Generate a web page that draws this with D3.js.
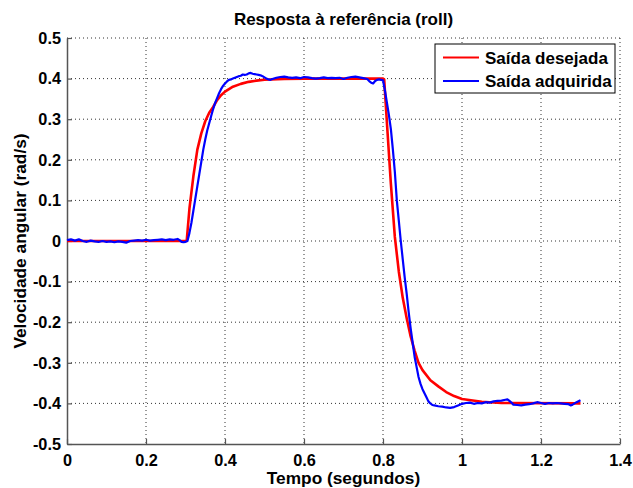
<!DOCTYPE html>
<html>
<head>
<meta charset="utf-8">
<script src="https://cdn.jsdelivr.net/npm/d3@7"></script>
<style>
  html, body { margin: 0; padding: 0; background: #fff; }
  svg { display: block; }
  text { font-family: "Liberation Sans", Arial, sans-serif; font-weight: bold; fill: #000; }
</style>
</head>
<body>
<svg id="chart" width="633" height="488"></svg>
<script>
// ---- data ----
const titleText = "Resposta à referência (roll)";
const xLabel = "Tempo (segundos)";
const yLabel = "Velocidade angular (rad/s)";
const seriesNames = ["Saída desejada", "Saída adquirida"];

const xTicks = [0, 0.2, 0.4, 0.6, 0.8, 1.0, 1.2, 1.4];
const xTickLabels = ["0", "0.2", "0.4", "0.6", "0.8", "1", "1.2", "1.4"];
const yTicks = [-0.5, -0.4, -0.3, -0.2, -0.1, 0, 0.1, 0.2, 0.3, 0.4, 0.5];
const yTickLabels = ["-0.5", "-0.4", "-0.3", "-0.2", "-0.1", "0", "0.1", "0.2", "0.3", "0.4", "0.5"];

// desired output (red)
const tDesired = [0, 0.30, 0.303, 0.31, 0.32, 0.33, 0.34, 0.35, 0.36, 0.37, 0.38, 0.39, 0.40, 0.42, 0.44, 0.46, 0.48, 0.50, 0.55, 0.60,
  0.80, 0.803, 0.81, 0.82, 0.83, 0.84, 0.85, 0.86, 0.87, 0.88, 0.89, 0.90, 0.92, 0.94, 0.96, 0.98, 1.00, 1.05, 1.10, 1.30];
const vDesired = [0, 0, 0, 0.08, 0.16, 0.225, 0.265, 0.295, 0.316, 0.33, 0.347, 0.359, 0.368, 0.38, 0.387, 0.392, 0.395, 0.397, 0.399, 0.4,
  0.4, 0.398, 0.29, 0.14, 0.01, -0.075, -0.14, -0.19, -0.235, -0.27, -0.3, -0.318, -0.343, -0.358, -0.372, -0.382, -0.389, -0.396, -0.399, -0.4];

// acquired output (blue)
const tAcquired = [0, 0.01, 0.02, 0.03, 0.04, 0.05, 0.06, 0.07, 0.08, 0.09, 0.10, 0.11, 0.12, 0.13, 0.14, 0.15, 0.16, 0.17, 0.18, 0.19,
  0.20, 0.21, 0.22, 0.23, 0.24, 0.25, 0.26, 0.27, 0.28, 0.285, 0.29, 0.295, 0.30, 0.305, 0.31, 0.315, 0.32, 0.325, 0.33, 0.335,
  0.34, 0.345, 0.35, 0.355, 0.36, 0.365, 0.37, 0.375, 0.38, 0.385, 0.39, 0.395, 0.40, 0.405, 0.41, 0.415, 0.42, 0.425, 0.43, 0.435,
  0.44, 0.445, 0.45, 0.455, 0.46, 0.465, 0.47, 0.475, 0.48, 0.485, 0.49, 0.495, 0.50, 0.505, 0.51, 0.515, 0.52, 0.53, 0.54, 0.55,
  0.56, 0.57, 0.58, 0.59, 0.60, 0.61, 0.62, 0.63, 0.64, 0.65, 0.66, 0.67, 0.68, 0.69, 0.70, 0.71, 0.72, 0.73, 0.74, 0.75,
  0.76, 0.765, 0.77, 0.775, 0.78, 0.785, 0.79, 0.795, 0.80, 0.805, 0.81, 0.815, 0.82, 0.825, 0.83, 0.835, 0.84, 0.845, 0.85, 0.855,
  0.86, 0.865, 0.87, 0.875, 0.88, 0.885, 0.89, 0.895, 0.90, 0.905, 0.91, 0.915, 0.92, 0.925, 0.93, 0.94, 0.95, 0.96, 0.97, 0.98,
  0.99, 1.00, 1.01, 1.02, 1.03, 1.04, 1.05, 1.06, 1.07, 1.08, 1.09, 1.10, 1.11, 1.115, 1.12, 1.125, 1.13, 1.14, 1.15, 1.16,
  1.17, 1.18, 1.19, 1.20, 1.21, 1.22, 1.23, 1.24, 1.25, 1.26, 1.27, 1.275, 1.28, 1.29, 1.30];
const vAcquired = [0.002, 0.004, 0.001, 0.004, 0.0, -0.002, 0.001, -0.001, -0.002, 0.0, -0.002, -0.001, -0.003, -0.001, -0.002, -0.004, 0.0, 0.001, 0.002, 0.001,
  0.003, 0.001, 0.002, 0.003, 0.004, 0.002, 0.004, 0.003, 0.005, 0.002, -0.002, -0.003, -0.002, 0.0, 0.02, 0.045, 0.075, 0.105, 0.135, 0.165,
  0.195, 0.225, 0.25, 0.272, 0.29, 0.308, 0.325, 0.34, 0.352, 0.364, 0.374, 0.382, 0.388, 0.393, 0.397, 0.398, 0.4, 0.402, 0.404, 0.406,
  0.407, 0.41, 0.409, 0.41, 0.413, 0.414, 0.412, 0.411, 0.41, 0.409, 0.408, 0.406, 0.403, 0.4, 0.398, 0.397, 0.399, 0.402, 0.404, 0.405,
  0.403, 0.402, 0.403, 0.401, 0.404, 0.403, 0.401, 0.4, 0.401, 0.403, 0.401, 0.402, 0.401, 0.402, 0.399, 0.402, 0.404, 0.405, 0.403, 0.401,
  0.399, 0.394, 0.39, 0.388, 0.394, 0.397, 0.398, 0.397, 0.396, 0.37, 0.34, 0.31, 0.275, 0.225, 0.17, 0.1, 0.05, 0.0, -0.045, -0.09,
  -0.13, -0.175, -0.215, -0.25, -0.285, -0.31, -0.335, -0.352, -0.365, -0.375, -0.385, -0.395, -0.4, -0.404, -0.405, -0.407, -0.408, -0.41, -0.411, -0.409,
  -0.405, -0.401, -0.399, -0.398, -0.401, -0.399, -0.4, -0.397, -0.398, -0.395, -0.394, -0.393, -0.391, -0.39, -0.394, -0.398, -0.403, -0.404, -0.405, -0.403,
  -0.402, -0.4, -0.397, -0.399, -0.401, -0.399, -0.4, -0.399, -0.4, -0.401, -0.402, -0.405, -0.403, -0.397, -0.392];

// ---- layout ----
const svg = d3.select("#chart");
const margin = { left: 67, top: 38, right: 13, bottom: 44 };
const W = 633 - margin.left - margin.right;   // 553
const H = 488 - margin.top - margin.bottom;   // 406

const x = d3.scaleLinear().domain([0, 1.4]).range([0, W]);
const y = d3.scaleLinear().domain([-0.5, 0.5]).range([H, 0]);

const g = svg.append("g").attr("transform", `translate(${margin.left},${margin.top})`);

// grid
g.append("g").selectAll("line").data(xTicks.slice(1)).join("line")
  .attr("x1", d => x(d)).attr("x2", d => x(d)).attr("y1", 0).attr("y2", H)
  .attr("stroke", "#333").attr("stroke-width", 1).attr("stroke-dasharray", "1,3");
g.append("g").selectAll("line").data(yTicks.slice(1)).join("line")
  .attr("y1", d => y(d)).attr("y2", d => y(d)).attr("x1", 0).attr("x2", W)
  .attr("stroke", "#333").attr("stroke-width", 1).attr("stroke-dasharray", "1,3");

// axes
const xAxis = d3.axisBottom(x).tickValues(xTicks).tickFormat((d, i) => xTickLabels[i]).tickSizeInner(-5).tickSizeOuter(0).tickPadding(10);
const yAxis = d3.axisLeft(y).tickValues(yTicks).tickFormat((d, i) => yTickLabels[i]).tickSizeInner(-5).tickSizeOuter(0).tickPadding(6);

const gx = g.append("g").attr("transform", `translate(0,${H})`).call(xAxis);
const gy = g.append("g").call(yAxis);
[gx, gy].forEach(a => {
  a.select(".domain").attr("stroke", "#555").attr("stroke-width", 1.5);
  a.selectAll(".tick line").attr("stroke", "#555").attr("stroke-width", 1.2);
  a.selectAll(".tick text").style("font-family", "'Liberation Sans', Arial, sans-serif")
    .style("font-weight", "bold").style("font-size", "16.3px").attr("fill", "#000");
});

// lines
const line = d3.line().x(d => x(d[0])).y(d => y(d[1]));
const desired = tDesired.map((t, i) => [t, vDesired[i]]);
const acquired = tAcquired.map((t, i) => [t, vAcquired[i]]);

g.append("path").datum(desired).attr("d", line)
  .attr("fill", "none").attr("stroke", "#ff0000").attr("stroke-width", 2.6).attr("stroke-linejoin", "round");
g.append("path").datum(acquired).attr("d", line)
  .attr("fill", "none").attr("stroke", "#0000ff").attr("stroke-width", 2.2).attr("stroke-linejoin", "round");

// title and labels
svg.append("text").attr("x", margin.left + W / 2).attr("y", 25).attr("text-anchor", "middle")
  .style("font-size", "17px").text(titleText);
svg.append("text").attr("x", margin.left + W / 2).attr("y", 484).attr("text-anchor", "middle")
  .style("font-size", "17.3px").text(xLabel);
svg.append("text").attr("transform", `translate(26,${margin.top + H / 2}) rotate(-90)`).attr("text-anchor", "middle")
  .style("font-size", "17.3px").text(yLabel);

// legend
const lg = svg.append("g").attr("transform", "translate(435,44)");
lg.append("rect").attr("x", 0).attr("y", 0).attr("width", 180).attr("height", 49)
  .attr("fill", "#fff").attr("stroke", "#000").attr("stroke-width", 1);
const colors = ["#ff0000", "#0000ff"];
seriesNames.forEach((name, i) => {
  const yy = 13.5 + i * 23.5;
  lg.append("line").attr("x1", 8).attr("x2", 44).attr("y1", yy).attr("y2", yy)
    .attr("stroke", colors[i]).attr("stroke-width", 2);
  lg.append("text").attr("x", 50).attr("y", yy).attr("dy", "0.36em")
    .style("font-size", "17px").text(name);
});
</script>
</body>
</html>
